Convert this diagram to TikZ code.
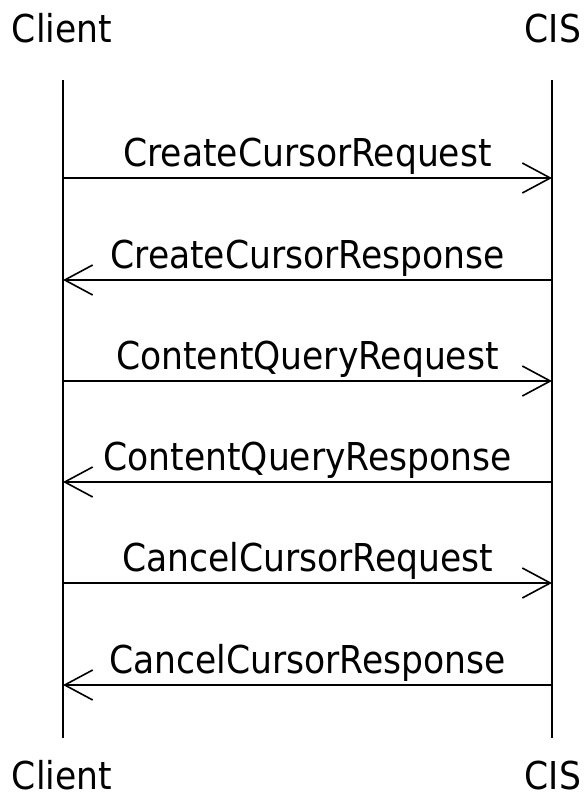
\documentclass[tikz,border=0pt]{standalone}
\usepackage{fontspec}
\setmainfont{DejaVu Sans Condensed}
\usetikzlibrary{arrows.meta, positioning}
\tikzset{
    party/.style={anchor=base, font=\fontsize{19.2pt}{21pt}\selectfont, inner sep=0pt},
    msglabel/.style={anchor=base, font=\fontsize{19.2pt}{21pt}\selectfont, inner sep=0pt, yshift=6pt},
    lifeline/.style={line width=0.8pt},
    msgarrow/.style={-{Straight Barb[length=14pt, width=15pt, line width=0.8pt]}, line width=0.8pt}
}

\begin{document}
\begin{tikzpicture}[x=0.5pt, y=-0.5pt]
  \useasboundingbox (0,0) rectangle (585,800);
  \node[party] (clientTop) at (62,42) {Client};
  \node[party] (cisTop) at (553,42) {CIS};
  \node[party] (clientBot) at (62,789) {Client};
  \node[party] (cisBot) at (553,789) {CIS};
  \coordinate (cA) at (63,80);
  \coordinate (cB) at (63,738);
  \coordinate (sA) at (552,80);
  \coordinate (sB) at (552,738);
  \draw[lifeline] (cA) -- (cB);
  \draw[lifeline] (sA) -- (sB);
  \coordinate (c1) at (63,178);  \coordinate (s1) at (552,178);
  \coordinate (c2) at (63,280);  \coordinate (s2) at (552,280);
  \coordinate (c3) at (63,381);  \coordinate (s3) at (552,381);
  \coordinate (c4) at (63,482);  \coordinate (s4) at (552,482);
  \coordinate (c5) at (63,583);  \coordinate (s5) at (552,583);
  \coordinate (c6) at (63,685);  \coordinate (s6) at (552,685);
  \draw[msgarrow] (c1) -- node[msglabel]{CreateCursorRequest} (s1);
  \draw[msgarrow] (s2) -- node[msglabel]{CreateCursorResponse} (c2);
  \draw[msgarrow] (c3) -- node[msglabel]{ContentQueryRequest} (s3);
  \draw[msgarrow] (s4) -- node[msglabel]{ContentQueryResponse} (c4);
  \draw[msgarrow] (c5) -- node[msglabel]{CancelCursorRequest} (s5);
  \draw[msgarrow] (s6) -- node[msglabel]{CancelCursorResponse} (c6);
\end{tikzpicture}
\end{document}
